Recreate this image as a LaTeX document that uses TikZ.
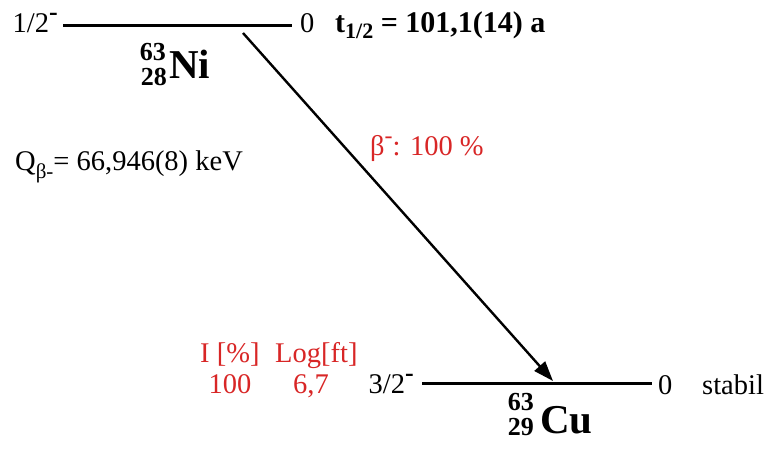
\documentclass[tikz,border=0pt]{standalone}
\usepackage{fontspec}
\setmainfont{Liberation Serif}
\usetikzlibrary{arrows.meta,positioning}
\definecolor{decayred}{RGB}{216,38,38}
\tikzset{
  lbl/.style={inner sep=0pt, font=\fontsize{28.5}{30}\selectfont},
  lblred/.style={lbl, text=decayred},
  halflife/.style={inner sep=0pt, font=\fontsize{30}{32}\selectfont\bfseries},
  nucname/.style={inner sep=0pt, font=\fontsize{41}{44}\selectfont\bfseries},
  nucnum/.style={inner sep=0pt, font=\fontsize{26}{28}\selectfont\bfseries},
  levelline/.style={line width=3pt},
  decayarrow/.style={-{Triangle[length=20pt,width=14pt]}, line width=2.4pt}
}

\begin{document}
\begin{tikzpicture}[x=1pt,y=-1pt]
  \useasboundingbox (0,0) rectangle (767,448);
  % mother level, 63Ni
  \coordinate (nileft) at (63,25);
  \coordinate (niright) at (292,25);
  \draw[levelline] (nileft) -- (niright);
  \node[lbl, anchor=base east] (nispin) at (58,32) {1/2\raisebox{0.42em}{\fontsize{26}{26}\selectfont\bfseries -}};
  \node[lbl, anchor=base west] (nienergy) at (300,32) {0};
  \node[halflife, anchor=base west] (nihalf) at (335,32) {t\raisebox{-6pt}{\fontsize{22}{22}\selectfont 1/2} = 101,1(14) a};
  \node[nucname, anchor=base west] (niname) at (169,78) {Ni};
  \node[nucnum, anchor=base east] (nimass) at ([xshift=-3pt,yshift=18pt]niname.base west) {63};
  \node[nucnum, anchor=base east] (nicharge) at ([xshift=-2pt,yshift=-7pt]niname.base west) {28};

  \node[lbl, anchor=base west] (qvalue) at (15,170) {Q\raisebox{-8pt}{\fontsize{21}{21}\selectfont β-}= 66,946(8) keV};

  % beta decay
  \coordinate (betastart) at (243,33);
  \coordinate (betaend) at (553,381);
  \draw[decayarrow] (betastart) -- (betaend);
  \node[lblred, anchor=base west] (betalbl) at (370,155) {β\raisebox{0.42em}{\fontsize{24}{24}\selectfont -}: 100 \%};

  % daughter level, 63Cu
  \coordinate (culeft) at (422,383);
  \coordinate (curight) at (652,383);
  \draw[levelline] (culeft) -- (curight);
  \node[lbl, anchor=base east] (cuspin) at (414,393) {3/2\raisebox{0.42em}{\fontsize{26}{26}\selectfont\bfseries -}};
  \node[lbl, anchor=base west] (cuenergy) at (658,394) {0};
  \node[lbl, anchor=base west] (custable) at (702,394) {stabil};
  \node[nucname, anchor=base west] (cuname) at (540,433) {Cu};
  \node[nucnum, anchor=base east] (cumass) at ([xshift=-6pt,yshift=23pt]cuname.base west) {63};
  \node[nucnum, anchor=base east] (cucharge) at ([xshift=-6pt,yshift=-2pt]cuname.base west) {29};

  % intensity and log ft
  \node[lblred, anchor=base west] (inthead) at (200,362) {I [\%]};
  \node[lblred, anchor=base west] (fthead) at (275,362) {Log[ft]};
  \node[lblred, anchor=base] (intval) at (230,393) {100};
  \node[lblred, anchor=base] (ftval) at (311,393) {6,7};
\end{tikzpicture}
\end{document}
